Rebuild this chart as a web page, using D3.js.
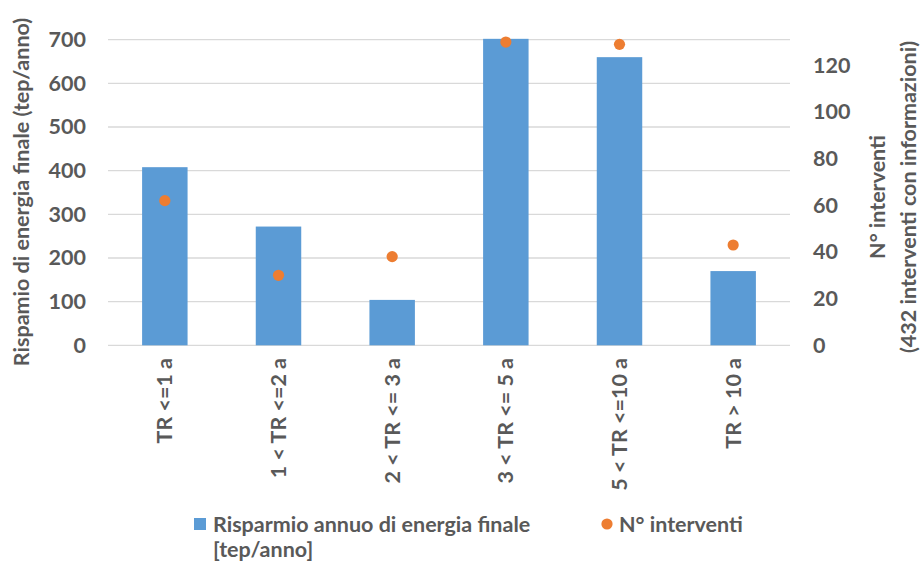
<!DOCTYPE html>
<html>
<head>
<meta charset="utf-8">
<style>
  body { margin: 0; background: #fff; }
  text { font-family: Lato, "Open Sans", sans-serif; font-weight: bold; fill: #595959; }
</style>
</head>
<body>
<svg></svg>
<script src="https://cdn.jsdelivr.net/npm/d3@7"></script>
<script>

  const categories = ["TR <=1 a", "1 < TR <=2 a", "2 < TR <= 3 a", "3 < TR <= 5 a", "5 < TR <=10 a", "TR > 10 a"]
  const risparmio = [408, 272, 104, 702, 660, 170]   // tep/anno
  const interventi = [62, 30, 38, 130, 129, 43]      // n° interventi
  const leftTicks = [0, 100, 200, 300, 400, 500, 600, 700]
  const rightTicks = [0, 20, 40, 60, 80, 100, 120]

  const width = 921,
        height = 563,
        colors = {bar: '#5B9BD5',
                  dot: '#ED7D31',
                  grid: '#D9D9D9',
                  text: '#595959'}

  const plot = {left: 108, right: 790, top: 39.7, bottom: 345.3}
  const fontSize = 21.5

  const svg = d3.select("svg")
      .attr("width", width)
      .attr("height", height)

  const xScale = d3.scaleBand()
    .domain(categories)
    .range([plot.left, plot.right])
    .padding(0)

  const yLeft = d3.scaleLinear()
    .domain([0, 700])
    .range([plot.bottom, plot.top])

  const yRight = d3.scaleLinear()
    .domain([0, 131])
    .range([plot.bottom, plot.top])

  // gridlines
  svg.append("g")
    .selectAll("line")
    .data(leftTicks)
    .enter()
    .append("line")
      .attr("x1", plot.left)
      .attr("x2", plot.right)
      .attr("y1", d => yLeft(d))
      .attr("y2", d => yLeft(d))
      .attr("stroke", colors.grid)
      .attr("stroke-width", 1.3)

  // left axis
  const gLeft = svg.append("g")
    .attr("transform", `translate(${plot.left - 22}, 0)`)
    .call(d3.axisLeft(yLeft).tickValues(leftTicks).tickSize(0).tickPadding(0))
  gLeft.select(".domain").remove()
  gLeft.selectAll("text")
    .style("font-family", "Lato")
    .style("font-size", fontSize + "px")
    .attr("fill", colors.text)

  // right axis
  const gRight = svg.append("g")
    .attr("transform", `translate(${plot.right + 23}, 0)`)
    .call(d3.axisRight(yRight).tickValues(rightTicks).tickSize(0).tickPadding(0))
  gRight.select(".domain").remove()
  gRight.selectAll("text")
    .style("font-family", "Lato")
    .style("font-size", fontSize + "px")
    .attr("fill", colors.text)

  // bars
  const barW = xScale.bandwidth() * 0.4
  svg.append("g")
    .selectAll(".bars")
    .data(risparmio)
    .enter()
    .append("rect")
      .attr("class", "bars")
      .attr("x", (d, i) => xScale(categories[i]) + xScale.bandwidth()/2 - barW/2)
      .attr("width", barW)
      .attr("y", d => yLeft(d))
      .attr("height", d => plot.bottom - yLeft(d))
      .attr("fill", colors.bar)

  // dots
  svg.append("g")
    .selectAll(".dots")
    .data(interventi)
    .enter()
    .append("circle")
      .attr("class", "dots")
      .attr("cx", (d, i) => xScale(categories[i]) + xScale.bandwidth()/2)
      .attr("cy", d => yRight(d))
      .attr("r", 5.6)
      .attr("fill", colors.dot)

  // category labels (rotated)
  svg.append("g")
    .selectAll(".xTicksLabel")
    .data(categories)
    .enter()
    .append("text")
      .attr("class", "xTicksLabel")
      .attr("transform", d => `translate(${xScale(d) + xScale.bandwidth()/2}, 358) rotate(-90)`)
      .attr("text-anchor", "end")
      .attr("dy", "0.35em")
      .style("font-size", fontSize + "px")
      .text(d => d)

  // axis titles
  svg.append("text")
    .attr("transform", `translate(21, 192) rotate(-90)`)
    .attr("text-anchor", "middle")
    .attr("dy", "0.35em")
    .style("font-size", fontSize + "px")
    .text("Rispamio di energia finale (tep/anno)")

  svg.append("text")
    .attr("transform", `translate(877, 197) rotate(-90)`)
    .attr("text-anchor", "middle")
    .attr("dy", "0.35em")
    .style("font-size", fontSize + "px")
    .text("N° interventi")
  svg.append("text")
    .attr("transform", `translate(908, 197) rotate(-90)`)
    .attr("text-anchor", "middle")
    .attr("dy", "0.35em")
    .style("font-size", fontSize + "px")
    .text("(432 interventi con informazioni)")

  // legend
  const legend = svg.append("g")
  legend.append("rect")
    .attr("x", 194)
    .attr("y", 518)
    .attr("width", 12)
    .attr("height", 12)
    .attr("fill", colors.bar)
  legend.append("text")
    .attr("x", 213)
    .attr("y", 532)
    .style("font-size", fontSize + "px")
    .text("Risparmio annuo di energia finale")
  legend.append("text")
    .attr("x", 213)
    .attr("y", 557)
    .style("font-size", fontSize + "px")
    .text("[tep/anno]")
  legend.append("circle")
    .attr("cx", 607)
    .attr("cy", 524)
    .attr("r", 5.6)
    .attr("fill", colors.dot)
  legend.append("text")
    .attr("x", 619)
    .attr("y", 532)
    .style("font-size", fontSize + "px")
    .text("N° interventi")

</script>
</body>
</html>
